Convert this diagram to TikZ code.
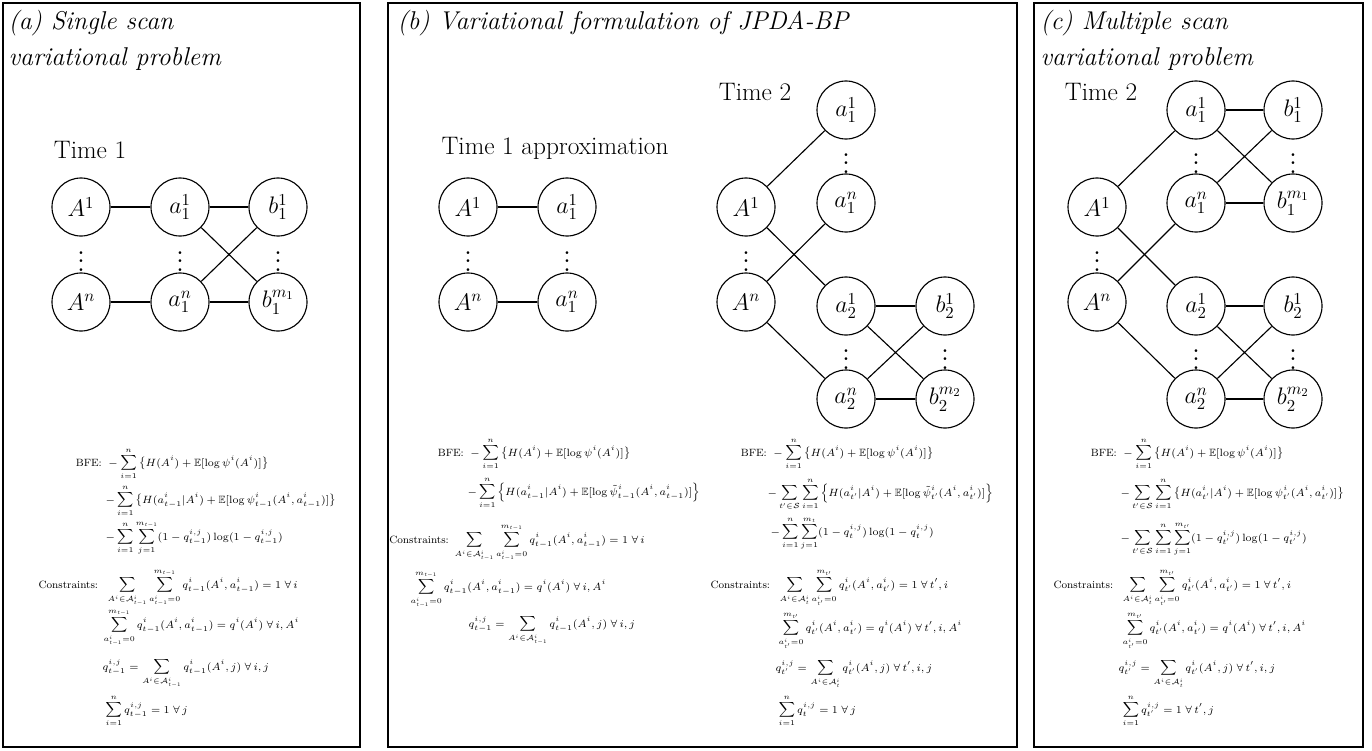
\RequirePackage{fix-cm}
\documentclass[tikz,border=0pt]{standalone}
\usepackage{amsmath,amssymb,graphicx}

\begin{document}
\begin{tikzpicture}[x=0.025cm,y=-0.025cm,line width=0.8pt,
  var/.style={circle,draw,minimum size=1.45cm,inner sep=0pt,font=\fontsize{17}{19}\selectfont},
  dts/.style={inner sep=0pt,font=\fontsize{16}{18}\selectfont},
  panel/.style={draw,line width=1.2pt},
  ttl/.style={anchor=north west,align=left,inner sep=0pt,font=\fontsize{18.3}{25}\selectfont\itshape},
  tlab/.style={font=\fontsize{18}{20}\selectfont},
  eqn/.style={anchor=base west,inner sep=0pt,font=\fontsize{7.5}{9}\selectfont}]
\useasboundingbox (0,0) rectangle (1372,750);

% panels
\draw[panel] (3,3) rectangle (360,747);
\draw[panel] (388,3) rectangle (1017,747);
\draw[panel] (1034,3) rectangle (1363,747);
\node[ttl] (ttla) at (8,10) {(a) Single scan\\variational problem};
\node[ttl] (ttlb) at (397,10) {(b) Variational formulation of JPDA-BP};
\node[ttl] (ttlc) at (1040,10) {(c) Multiple scan\\variational problem};

% (a) single scan
\node[tlab] (tma) at (90,150) {Time 1};
\node[var] (aA1) at (81,207) {$A^1$};
\node[dts] (aAd) at (81,255) {\scalebox{1.5}{$\vdots$}};
\node[var] (aAn) at (81,302) {$A^n$};
\node[var] (aa1) at (180,207) {$a_1^1$};
\node[dts] (aad) at (180,255) {\scalebox{1.5}{$\vdots$}};
\node[var] (aan) at (180,302) {$a_1^n$};
\node[var] (ab1) at (278,207) {$b_1^1$};
\node[dts] (abd) at (278,255) {\scalebox{1.5}{$\vdots$}};
\node[var] (abm) at (278,302) {$b_1^{m_1}$};
\draw (aA1) -- (aa1);
\draw (aAn) -- (aan);
\draw (aa1) -- (ab1);
\draw (aa1) -- (abm);
\draw (aan) -- (ab1);
\draw (aan) -- (abm);

\node[eqn] (eqa1) at (105,466) {$\displaystyle\llap{BFE:\ }-\sum_{i=1}^{n}\big\{H(A^i)+\mathbb{E}[\log\psi^i(A^i)]\big\}$};
\node[eqn] (eqa2) at (105,503) {$\displaystyle-\sum_{i=1}^{n}\big\{H(a^i_{t-1}|A^i)+\mathbb{E}[\log\psi^i_{t-1}(A^i,a^i_{t-1})]\big\}$};
\node[eqn] (eqa3) at (105,540) {$\displaystyle-\sum_{i=1}^{n}\sum_{j=1}^{m_{t-1}}(1-q^{i,j}_{t-1})\log(1-q^{i,j}_{t-1})$};
\node[eqn] (eqa4) at (105,588) {$\displaystyle\llap{Constraints:\ \ }\sum_{A^i\in\mathcal{A}^i_{t-1}}\sum_{a^i_{t-1}=0}^{m_{t-1}}q^i_{t-1}(A^i,a^i_{t-1})=1\;\forall\,i$};
\node[eqn] (eqa5) at (103,628) {$\displaystyle\sum_{a^i_{t-1}=0}^{m_{t-1}}q^i_{t-1}(A^i,a^i_{t-1})=q^i(A^i)\;\forall\,i,A^i$};
\node[eqn] (eqa6) at (102,670) {$\displaystyle q^{i,j}_{t-1}=\sum_{A^i\in\mathcal{A}^i_{t-1}}q^i_{t-1}(A^i,j)\;\forall\,i,j$};
\node[eqn] (eqa7) at (105,713) {$\displaystyle\sum_{i=1}^{n}q^{i,j}_{t-1}=1\;\forall\,j$};

% (b) time 1 approximation
\node[tlab] (tmb) at (555,148) {Time 1 approximation};
\node[var] (bA1) at (468,207) {$A^1$};
\node[dts] (bAd) at (468,255) {\scalebox{1.5}{$\vdots$}};
\node[var] (bAn) at (468,302) {$A^n$};
\node[var] (ba1) at (567,207) {$a_1^1$};
\node[dts] (bad) at (567,255) {\scalebox{1.5}{$\vdots$}};
\node[var] (ban) at (567,302) {$a_1^n$};
\draw (bA1) -- (ba1);
\draw (bAn) -- (ban);

\node[eqn] (eqb1) at (467,456) {$\displaystyle\llap{BFE:\ }-\sum_{i=1}^{n}\big\{H(A^i)+\mathbb{E}[\log\psi^i(A^i)]\big\}$};
\node[eqn] (eqb2) at (467,495) {$\displaystyle-\sum_{i=1}^{n}\Big\{H(a^i_{t-1}|A^i)+\mathbb{E}[\log\tilde{\psi}^i_{t-1}(A^i,a^i_{t-1})]\Big\}$};
\node[eqn] (eqb3) at (452,543) {$\displaystyle\llap{Constraints:\ }\sum_{A^i\in\mathcal{A}^i_{t-1}}\sum_{a^i_{t-1}=0}^{m_{t-1}}q^i_{t-1}(A^i,a^i_{t-1})=1\;\forall\,i$};
\node[eqn] (eqb4) at (410,590) {$\displaystyle\sum_{a^i_{t-1}=0}^{m_{t-1}}q^i_{t-1}(A^i,a^i_{t-1})=q^i(A^i)\;\forall\,i,A^i$};
\node[eqn] (eqb5) at (468,627) {$\displaystyle q^{i,j}_{t-1}=\sum_{A^i\in\mathcal{A}^i_{t-1}}q^i_{t-1}(A^i,j)\;\forall\,i,j$};

% (b) time 2
\node[tlab] (tmc) at (755,92) {Time 2};
\node[var] (cA1) at (746,207) {$A^1$};
\node[dts] (cAd) at (746,255) {\scalebox{1.5}{$\vdots$}};
\node[var] (cAn) at (746,302) {$A^n$};
\node[var] (c11) at (846,110) {$a_1^1$};
\node[dts] (c1d) at (846,157) {\scalebox{1.5}{$\vdots$}};
\node[var] (c1n) at (846,203) {$a_1^n$};
\node[var] (c21) at (846,306) {$a_2^1$};
\node[dts] (c2d) at (846,353) {\scalebox{1.5}{$\vdots$}};
\node[var] (c2n) at (846,399) {$a_2^n$};
\node[var] (cb1) at (945,306) {$b_2^1$};
\node[dts] (cbd) at (945,353) {\scalebox{1.5}{$\vdots$}};
\node[var] (cbm) at (945,399) {$b_2^{m_2}$};
\draw (cA1) -- (c11);
\draw (cA1) -- (c21);
\draw (cAn) -- (c1n);
\draw (cAn) -- (c2n);
\draw (c21) -- (cb1);
\draw (c21) -- (cbm);
\draw (c2n) -- (cb1);
\draw (c2n) -- (cbm);

\node[eqn] (eqc1) at (770,456) {$\displaystyle\llap{BFE:\ }-\sum_{i=1}^{n}\big\{H(A^i)+\mathbb{E}[\log\psi^i(A^i)]\big\}$};
\node[eqn] (eqc2) at (767,496) {$\displaystyle-\sum_{t'\in\mathcal{S}}\sum_{i=1}^{n}\Big\{H(a^i_{t'}|A^i)+\mathbb{E}[\log\tilde{\psi}^i_{t'}(A^i,a^i_{t'})]\Big\}$};
\node[eqn] (eqc3) at (770,535) {$\displaystyle-\sum_{i=1}^{n}\sum_{j=1}^{m_t}(1-q^{i,j}_{t})\log(1-q^{i,j}_{t})$};
\node[eqn] (eqc4) at (777,588) {$\displaystyle\llap{Constraints:\ \ }\sum_{A^i\in\mathcal{A}^i_{t}}\sum_{a^i_{t'}=0}^{m_{t'}}q^i_{t'}(A^i,a^i_{t'})=1\;\forall\,t',i$};
\node[eqn] (eqc5) at (778,631) {$\displaystyle\sum_{a^i_{t'}=0}^{m_{t'}}q^i_{t'}(A^i,a^i_{t'})=q^i(A^i)\;\forall\,t',i,A^i$};
\node[eqn] (eqc6) at (775,671) {$\displaystyle q^{i,j}_{t'}=\sum_{A^i\in\mathcal{A}^i_{t}}q^i_{t'}(A^i,j)\;\forall\,t',i,j$};
\node[eqn] (eqc7) at (778,713) {$\displaystyle\sum_{i=1}^{n}q^{i,j}_{t}=1\;\forall\,j$};

% (c) multiple scan
\node[tlab] (tmd) at (1101,92) {Time 2};
\node[var] (dA1) at (1097,207) {$A^1$};
\node[dts] (dAd) at (1097,255) {\scalebox{1.5}{$\vdots$}};
\node[var] (dAn) at (1097,302) {$A^n$};
\node[var] (d11) at (1196,110) {$a_1^1$};
\node[dts] (d1d) at (1196,157) {\scalebox{1.5}{$\vdots$}};
\node[var] (d1n) at (1196,203) {$a_1^n$};
\node[var] (d21) at (1196,306) {$a_2^1$};
\node[dts] (d2d) at (1196,353) {\scalebox{1.5}{$\vdots$}};
\node[var] (d2n) at (1196,399) {$a_2^n$};
\node[var] (db11) at (1293,110) {$b_1^1$};
\node[dts] (db1d) at (1293,157) {\scalebox{1.5}{$\vdots$}};
\node[var] (db1m) at (1293,203) {$b_1^{m_1}$};
\node[var] (db21) at (1293,306) {$b_2^1$};
\node[dts] (db2d) at (1293,353) {\scalebox{1.5}{$\vdots$}};
\node[var] (db2m) at (1293,399) {$b_2^{m_2}$};
\draw (dA1) -- (d11);
\draw (dA1) -- (d21);
\draw (dAn) -- (d1n);
\draw (dAn) -- (d2n);
\draw (d11) -- (db11);
\draw (d11) -- (db1m);
\draw (d1n) -- (db11);
\draw (d1n) -- (db1m);
\draw (d21) -- (db21);
\draw (d21) -- (db2m);
\draw (d2n) -- (db21);
\draw (d2n) -- (db2m);

\node[eqn] (eqd1) at (1120,456) {$\displaystyle\llap{BFE:\ }-\sum_{i=1}^{n}\big\{H(A^i)+\mathbb{E}[\log\psi^i(A^i)]\big\}$};
\node[eqn] (eqd2) at (1120,496) {$\displaystyle-\sum_{t'\in\mathcal{S}}\sum_{i=1}^{n}\big\{H(a^i_{t'}|A^i)+\mathbb{E}[\log\psi^i_{t'}(A^i,a^i_{t'})]\big\}$};
\node[eqn] (eqd3) at (1120,541) {$\displaystyle-\sum_{t'\in\mathcal{S}}\sum_{i=1}^{n}\sum_{j=1}^{m_{t'}}(1-q^{i,j}_{t'})\log(1-q^{i,j}_{t'})$};
\node[eqn] (eqd4) at (1120,588) {$\displaystyle\llap{Constraints:\ \ }\sum_{A^i\in\mathcal{A}^i_{t}}\sum_{a^i_{t'}=0}^{m_{t'}}q^i_{t'}(A^i,a^i_{t'})=1\;\forall\,t',i$};
\node[eqn] (eqd5) at (1122,631) {$\displaystyle\sum_{a^i_{t'}=0}^{m_{t'}}q^i_{t'}(A^i,a^i_{t'})=q^i(A^i)\;\forall\,t',i,A^i$};
\node[eqn] (eqd6) at (1118,671) {$\displaystyle q^{i,j}_{t'}=\sum_{A^i\in\mathcal{A}^i_{t}}q^i_{t'}(A^i,j)\;\forall\,t',i,j$};
\node[eqn] (eqd7) at (1122,713) {$\displaystyle\sum_{i=1}^{n}q^{i,j}_{t'}=1\;\forall\,t',j$};
\end{tikzpicture}
\end{document}
